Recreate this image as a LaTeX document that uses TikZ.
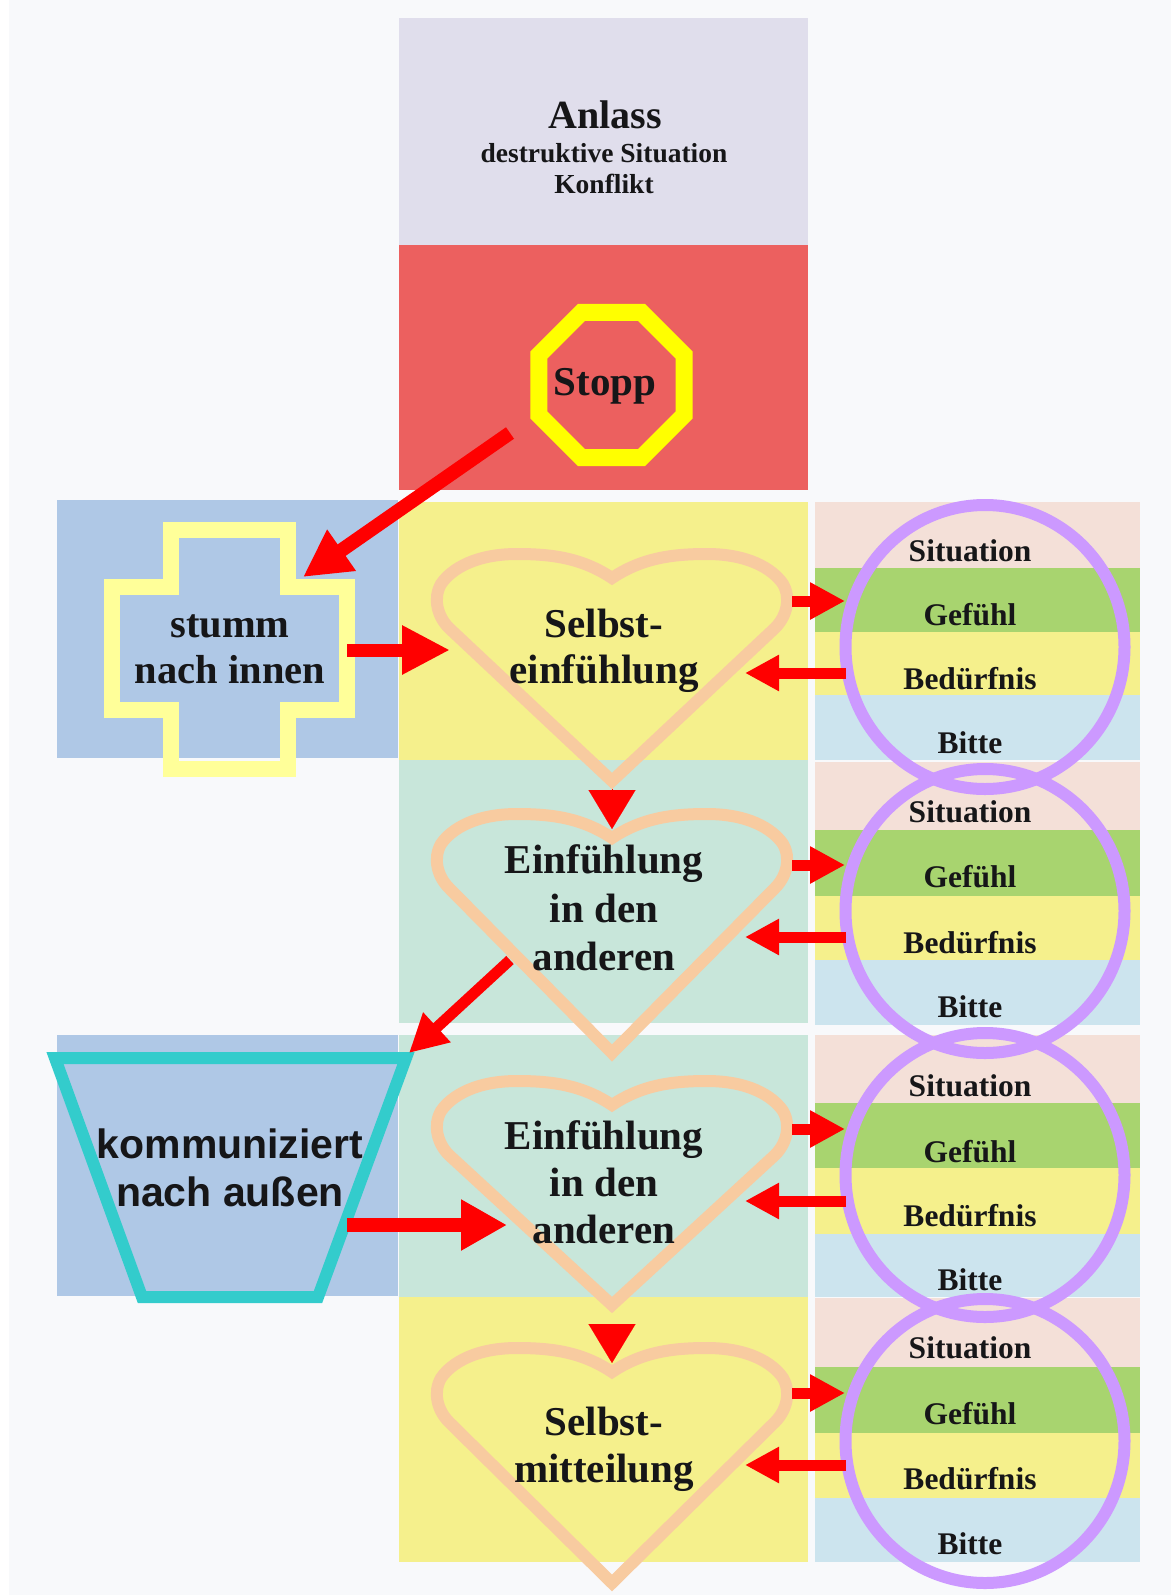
\documentclass[tikz,border=0pt]{standalone}
\usepackage{fontspec}
\setmainfont{Liberation Serif}
\setsansfont{Liberation Sans}
\usetikzlibrary{arrows.meta,shapes.geometric}
\definecolor{bgc}{HTML}{F8F9FB}
\definecolor{grayc}{HTML}{E0DEEC}
\definecolor{redc}{HTML}{EC605F}
\definecolor{bluec}{HTML}{AFC8E6}
\definecolor{yelc}{HTML}{F5F08C}
\definecolor{tealc}{HTML}{C8E6DA}
\definecolor{heartc}{HTML}{F8CBA0}
\definecolor{crossc}{HTML}{FFFF99}
\definecolor{stopc}{HTML}{FFFF00}
\definecolor{trapc}{HTML}{33CCCC}
\definecolor{pinkc}{HTML}{F4E0D8}
\definecolor{greenc}{HTML}{A8D46F}
\definecolor{lbluec}{HTML}{CCE4EE}
\definecolor{purpc}{HTML}{CC99FF}
\definecolor{arrc}{HTML}{FF0000}
\definecolor{txtc}{HTML}{161618}

\newcommand{\mkheart}[4]{%
  \begin{scope}[shift={(#2,#3)}]
    \draw[heartline] (0,0) .. controls (-30,-20) and (-60,-24) .. (-95,-24)
      .. controls (-135,-24) and (-160,-10) .. (-171,6)
      .. controls (-179,20) and (-175,38) .. (-163,50)
      -- (0,#4) -- (163,50)
      .. controls (175,38) and (179,20) .. (171,6)
      .. controls (160,-10) and (135,-24) .. (95,-24)
      .. controls (60,-24) and (30,-20) .. (0,0) -- cycle;
    \coordinate (#1-dip) at (0,-9);
    \coordinate (#1-tip) at (0,#4+8);
  \end{scope}}

\newcommand{\mkbands}[5]{%
  \fill[pinkc] (815,#1) rectangle (1140,#2);
  \fill[greenc] (815,#2) rectangle (1140,#3);
  \fill[yelc] (815,#3) rectangle (1140,#4);
  \fill[lbluec] (815,#4) rectangle (1140,#5);}

\newcommand{\mkgroup}[5]{%
  \node[rlbl] (#1s) at (970,#2) {Situation};
  \node[rlbl] (#1g) at (970,#3) {Gefühl};
  \node[rlbl] (#1b) at (970,#4) {Bedürfnis};
  \node[rlbl] (#1t) at (970,#5) {Bitte};}

\begin{document}
\begin{tikzpicture}[x=1pt,y=-1pt,
  heartline/.style={draw=heartc,line width=12pt,line join=miter},
  lbl/.style={anchor=base,inner sep=0pt,text=txtc,font=\bfseries\fontsize{#1}{#1}\selectfont},
  slbl/.style={anchor=base,inner sep=0pt,text=txtc,font=\sffamily\bfseries\fontsize{#1}{#1}\selectfont},
  rlbl/.style={lbl=31.5},
  hlbl/.style={lbl=41},
  ring/.style={ellipse,draw=purpc,line width=12pt,minimum width=279pt,minimum height=284pt,inner sep=0pt},
  arr/.style n args={3}{draw=arrc,line width=#1,-{Triangle[length=#2,width=#3]}},
  tri/.style={draw=arrc,line width=0.1pt,-{Triangle[length=39pt,width=47pt]}}
]
\useasboundingbox (0,0) rectangle (1171,1595);
\fill[bgc] (0,0) rectangle (1171,1595);
\fill[white] (0,0) rectangle (9,1595);

% centre column
\fill[grayc] (399,18) rectangle (808,245);
\fill[redc] (399,245) rectangle (808,490);
\fill[yelc] (399,502) rectangle (808,760);
\fill[tealc] (399,760) rectangle (808,1023);
\fill[tealc] (399,1035) rectangle (808,1297);
\fill[yelc] (399,1297) rectangle (808,1562);
% left boxes
\fill[bluec] (57,500) rectangle (398,758);
\fill[bluec] (57,1035) rectangle (398,1296);
% right column
\mkbands{502}{568}{632}{695}{760}
\mkbands{762}{830}{896}{960}{1025}
\mkbands{1035}{1103}{1168}{1234}{1297}
\mkbands{1298}{1367}{1433}{1498}{1562}
\mkgroup{ga}{561}{625}{689}{753}
\mkgroup{gb}{822}{887}{953}{1017}
\mkgroup{gc}{1096}{1162}{1226}{1290}
\mkgroup{gd}{1358}{1424}{1489}{1554}
\node[ring] (c1) at (985,647) {};
\node[ring] (c2) at (985,911) {};
\node[ring] (c3) at (985,1175) {};
\node[ring] (c4) at (985,1441) {};

% Anlass
\node[lbl=40] (anl1) at (605,128) {Anlass};
\node[lbl=27.5] (anl2) at (604,162) {destruktive Situation};
\node[lbl=27.5] (anl3) at (604,193) {Konflikt};
% Stopp
\node[regular polygon,regular polygon sides=8,minimum size=157pt,draw=stopc,line width=17pt,inner sep=0pt] (stopsign) at (611.5,385) {};
\node[lbl=41] (stopp) at (605,395) {Stopp};

% cross
\draw[draw=crossc,line width=16pt,line join=miter] (171,530) -- (288,530) -- (288,587) -- (347,587) -- (347,710) -- (288,710) -- (288,769) -- (171,769) -- (171,710) -- (112,710) -- (112,587) -- (171,587) -- cycle;
\node[lbl=40.5] (st1) at (230,637) {stumm};
\node[lbl=40.5] (st2) at (230,683) {nach innen};

% trapezoid
\draw[draw=trapc,line width=12pt,line join=miter] (55,1058) -- (406,1058) -- (318,1297) -- (142,1297) -- cycle;
\node[slbl=41] (ko1) at (230,1158) {kommuniziert};
\node[slbl=41] (ko2) at (230,1206) {nach außen};

% hearts
\mkheart{h1}{612}{578}{203}
\mkheart{h2}{612}{838}{215}
\mkheart{h3}{612}{1105}{200}
\mkheart{h4}{612}{1372}{211}
\node[hlbl] (h1a) at (604,637) {Selbst-};
\node[hlbl] (h1b) at (604,683) {einfühlung};
\node[hlbl] (h2a) at (604,873) {Einfühlung};
\node[hlbl] (h2b) at (604,922) {in den};
\node[hlbl] (h2c) at (604,970) {anderen};
\node[hlbl] (h3a) at (604,1149) {Einfühlung};
\node[hlbl] (h3b) at (604,1196) {in den};
\node[hlbl] (h3c) at (604,1243) {anderen};
\node[hlbl] (h4a) at (604,1435) {Selbst-};
\node[hlbl] (h4b) at (604,1482) {mitteilung};

% connector end points
\coordinate (stopout) at (510,433);
\coordinate (crossnotch) at (303,577);
\coordinate (crossR) at (347,650);
\coordinate (h1L) at (450,650);
\coordinate (h2out) at (510,960);
\coordinate (trapTR) at (409,1053);
\coordinate (trapR) at (347,1225);
\coordinate (h3L) at (507,1225);
\coordinate (h1R) at (792,601);  \coordinate (c1a) at (845,601);
\coordinate (c1b) at (846,673);  \coordinate (h1Rb) at (745,673);
\coordinate (h2R) at (792,865);  \coordinate (c2a) at (845,865);
\coordinate (c2b) at (846,937);  \coordinate (h2Rb) at (745,937);
\coordinate (h3R) at (792,1129); \coordinate (c3a) at (845,1129);
\coordinate (c3b) at (846,1201); \coordinate (h3Rb) at (745,1201);
\coordinate (h4R) at (792,1393); \coordinate (c4a) at (845,1393);
\coordinate (c4b) at (846,1465); \coordinate (h4Rb) at (745,1465);

% arrows
\draw[arr={14pt}{47pt}{47pt}] (stopout) -- (crossnotch);
\draw[arr={13pt}{48pt}{46pt}] (crossR) -- (h1L);
\draw[arr={11pt}{38pt}{38pt}] (h2out) -- (trapTR);
\draw[arr={14.5pt}{46pt}{48pt}] (trapR) -- (h3L);
\draw[tri] (h1-tip) -- (h2-dip);
\draw[tri,shorten <=11pt] (h3-tip) -- (h4-dip);
\draw[arr={11pt}{35pt}{35pt}] (h1R) -- (c1a);
\draw[arr={11pt}{34pt}{34pt}] (c1b) -- (h1Rb);
\draw[arr={11pt}{35pt}{35pt}] (h2R) -- (c2a);
\draw[arr={11pt}{34pt}{34pt}] (c2b) -- (h2Rb);
\draw[arr={11pt}{35pt}{35pt}] (h3R) -- (c3a);
\draw[arr={11pt}{34pt}{34pt}] (c3b) -- (h3Rb);
\draw[arr={11pt}{35pt}{35pt}] (h4R) -- (c4a);
\draw[arr={11pt}{34pt}{34pt}] (c4b) -- (h4Rb);
\end{tikzpicture}
\end{document}
